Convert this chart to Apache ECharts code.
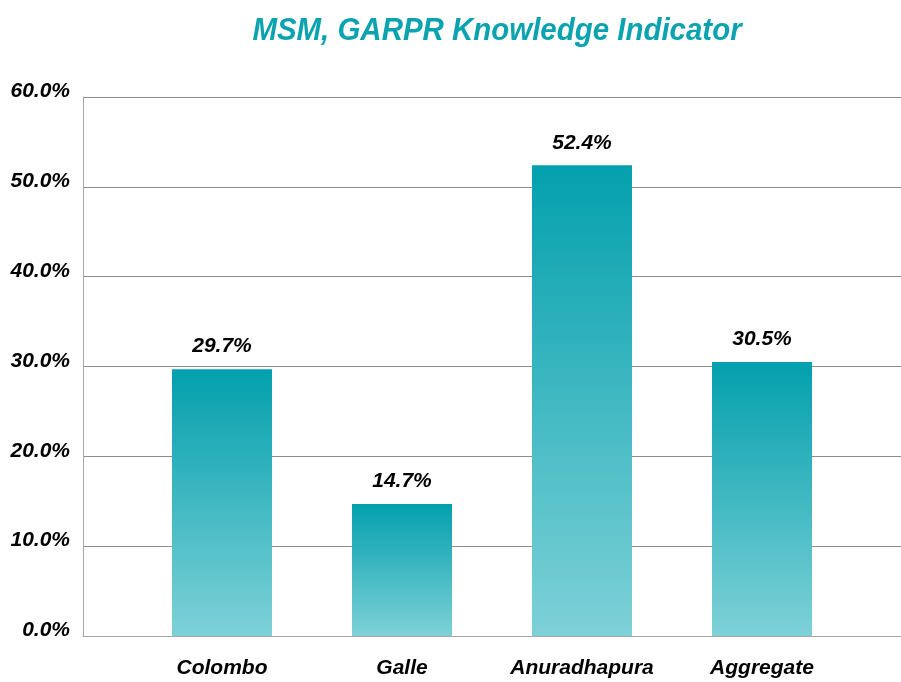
<!DOCTYPE html>
<html>
<head>
<meta charset="utf-8">
<script src="https://cdn.jsdelivr.net/npm/echarts@6/dist/echarts.min.js"></script>
<style>
  html, body { margin: 0; padding: 0; background: #fff; }
  #chart { width: 901px; height: 682px; }
</style>
</head>
<body>
<div id="chart"></div>
<script>
// Knowledge indicator share by district
const categories = ['Colombo', 'Galle', 'Anuradhapura', 'Aggregate'];
const values = [29.7, 14.7, 52.4, 30.5];
const yTicks = { min: 0, max: 60, interval: 10 };
const chartTitle = 'MSM, GARPR Knowledge Indicator';

const FONT = '"Liberation Sans Narrow", "Arial Narrow", "Liberation Sans", Arial, sans-serif';

const barGradient = new echarts.graphic.LinearGradient(0, 0, 0, 1, [
  { offset: 0, color: '#03A0AD' },
  { offset: 1, color: '#7ED1D7' }
]);

const chart = echarts.init(document.getElementById('chart'), null, { renderer: 'canvas' });

chart.setOption({
  animation: false,
  backgroundColor: '#ffffff',
  graphic: [{
    // title, slightly condensed
    type: 'text',
    x: 497,
    y: 31,
    scaleX: 0.95,
    style: {
      text: chartTitle,
      align: 'center',
      verticalAlign: 'middle',
      fill: '#0AA3AF',
      fontSize: 31,
      fontStyle: 'italic',
      fontWeight: 'bold',
      fontFamily: FONT
    }
  }],
  grid: [
    // frame: value axis and horizontal rules
    { left: 83, right: 0, top: 97, bottom: 46, containLabel: false },
    // bars
    { left: 132, right: 49, top: 97, bottom: 46, containLabel: false }
  ],
  xAxis: [
    {
      gridIndex: 0, type: 'category', data: categories,
      axisLine: { show: true, lineStyle: { color: '#A6A6A6', width: 1 } },
      axisTick: { show: false }, axisLabel: { show: false }, splitLine: { show: false }
    },
    {
      gridIndex: 1, type: 'category', data: categories,
      axisLine: { show: false }, axisTick: { show: false },
      axisLabel: {
        interval: 0,
        margin: 22,
        color: '#000',
        fontSize: 21,
        fontStyle: 'italic',
        fontWeight: 'bold',
        fontFamily: FONT
      }
    }
  ],
  yAxis: [
    {
      gridIndex: 0, type: 'value',
      min: yTicks.min, max: yTicks.max, interval: yTicks.interval,
      axisLine: { show: true, lineStyle: { color: '#A6A6A6', width: 1 } },
      axisTick: { show: false },
      splitLine: { show: true, lineStyle: { color: '#8C8C8C', width: 1 } },
      axisLabel: {
        margin: 13,
        color: '#000',
        fontSize: 21,
        fontStyle: 'italic',
        fontWeight: 'bold',
        fontFamily: FONT,
        verticalAlign: 'bottom',
        lineHeight: 11,
        formatter: v => v.toFixed(1) + '%'
      }
    },
    {
      gridIndex: 1, type: 'value',
      min: yTicks.min, max: yTicks.max, interval: yTicks.interval,
      show: false, splitLine: { show: false }
    }
  ],
  series: [{
    type: 'bar',
    xAxisIndex: 1,
    yAxisIndex: 1,
    data: values,
    barWidth: 100,
    itemStyle: { color: barGradient },
    label: {
      show: true,
      position: 'top',
      distance: 12,
      color: '#000',
      fontSize: 21,
      fontStyle: 'italic',
      fontWeight: 'bold',
      fontFamily: FONT,
      formatter: p => p.value.toFixed(1) + '%'
    }
  }]
});
</script>
</body>
</html>
